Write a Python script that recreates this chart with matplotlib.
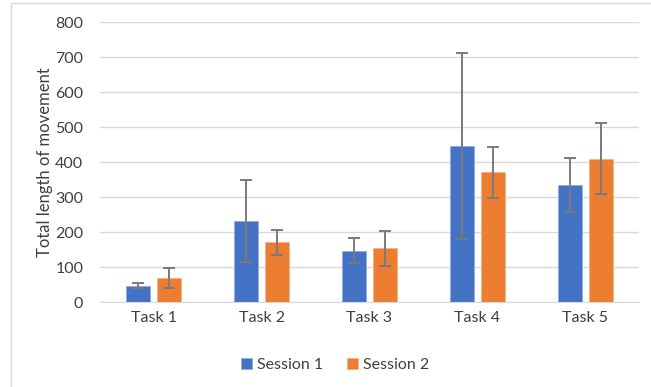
import matplotlib.pyplot as plt
import matplotlib.patches as patches
import numpy as np

# values
tasks = ["Task 1", "Task 2", "Task 3", "Task 4", "Task 5"]
session1 = [48, 233, 148, 447, 334]
session1_err = [8, 117, 36, 265, 77]
session2 = [70, 171, 155, 372, 410]
session2_err = [29, 36, 50, 73, 101]

plt.rcParams['font.family'] = ['Lato', 'DejaVu Sans']

fig = plt.figure(figsize=(6.51, 3.87), dpi=100)
ax = fig.add_axes([100/651, 1 - 302.3/387, 539/651, 280/387])

# chart border like excel
fig.patches.append(patches.Rectangle((11/651, -0.1), 1.0, 1 - 3/387 + 0.1,
                                     transform=fig.transFigure, fill=False,
                                     edgecolor='#d9d9d9', linewidth=1.0))

x = np.arange(len(tasks))
w = 24/107.8
gap = 7/107.8
errstyle = dict(ecolor='#7a7a7a', elinewidth=1.4, capsize=4, capthick=1.4)

ax.bar(x - (w + gap)/2, session1, w, yerr=session1_err, color='#4472C4',
       edgecolor='#8eaadb', linewidth=0.5, label='Session 1', error_kw=errstyle, zorder=2)
ax.bar(x + (w + gap)/2, session2, w, yerr=session2_err, color='#ED7D31',
       edgecolor='#f4b183', linewidth=0.5, label='Session 2', error_kw=errstyle, zorder=2)

ax.set_xlim(-0.5, len(tasks) - 0.5)
ax.set_ylim(0, 800)
ax.set_yticks(range(0, 801, 100))
ax.set_xticks(x)
ax.set_xticklabels(tasks)
ax.grid(axis='y', color='#d9d9d9', linewidth=1.0, zorder=0)
ax.set_axisbelow(True)
for s in ['top', 'right', 'left']:
    ax.spines[s].set_visible(False)
ax.spines['bottom'].set_color('#d9d9d9')
ax.tick_params(axis='both', length=0, labelsize=11.5, colors='#404040')
ax.tick_params(axis='y', pad=12)
ax.tick_params(axis='x', pad=6)

ax.set_ylabel('Total length of movement', fontsize=12, color='#404040')
ax.yaxis.set_label_coords(-0.088, 0.5)

ax.legend(loc='center', bbox_to_anchor=(335/651, 1 - 365/387), bbox_transform=fig.transFigure,
          ncol=2, frameon=False, fontsize=11.5, handlelength=0.7, handleheight=0.7,
          columnspacing=1.5, handletextpad=0.3, labelcolor='#404040')

fig.savefig('out.png', dpi=100)
